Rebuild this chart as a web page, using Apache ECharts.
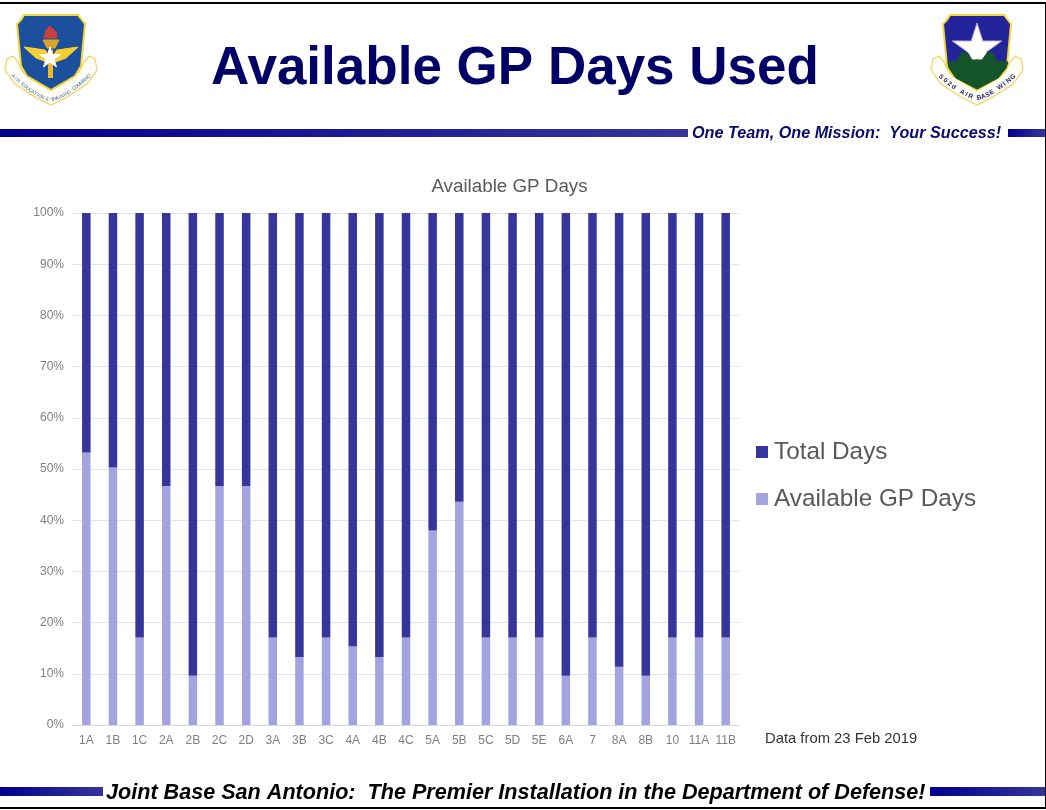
<!DOCTYPE html>
<html><head><meta charset="utf-8">
<style>html,body{margin:0;padding:0;background:#fff}#c{width:1046px;height:810px}</style>
<script src="https://cdn.jsdelivr.net/npm/echarts@6/dist/echarts.min.js"></script>
</head><body><div id="c"></div>
<script>
const categories = ['1A','1B','1C','2A','2B','2C','2D','3A','3B','3C','4A','4B','4C','5A','5B','5C','5D','5E','6A','7','8A','8B','10','11A','11B'];
const availableShare = [53.2,50.3,17.1,46.7,9.6,46.7,46.7,17.1,13.3,17.1,15.4,13.3,17.1,38,43.6,17.1,17.1,17.1,9.6,17.1,11.4,9.6,17.1,17.1,17.1];
const totalShare = [46.8,49.7,82.9,53.3,90.4,53.3,53.3,82.9,86.7,82.9,84.6,86.7,82.9,62,56.4,82.9,82.9,82.9,90.4,82.9,88.6,90.4,82.9,82.9,82.9];
const seriesNames = ['Total Days','Available GP Days'];
const pageTitle = 'Available GP Days Used';
const chartTitle = 'Available GP Days';
const motto = 'One Team, One Mission:  Your Success!';
const footer = 'Joint Base San Antonio:  The Premier Installation in the Department of Defense!';
const dataNote = 'Data from 23 Feb 2019';
const crestLeftText = 'AIR EDUCATION & TRAINING COMMAND';
const crestRightText = '502d AIR BASE WING';
const NAVY = '#000066', DARK = '#35359b', LIGHT = '#a3a3e0', SANS = '"Liberation Sans", Arial, sans-serif';

const bandFill = () => new echarts.graphic.LinearGradient(0,0,1,0,[{offset:0,color:'#00008f'},{offset:1,color:'#35359b'}]);
const rect = (x,y,w,h,fill) => ({type:'rect',silent:true,shape:{x,y,width:w,height:h},style:{fill}});
const txt = (x,y,text,font,fill,align='left') => ({type:'text',silent:true,x,y,style:{text,font,fill,align,verticalAlign:'middle'}});
const poly = (points,fill,stroke,lw=1.5) => ({type:'polygon',silent:true,shape:{points},style:{fill,stroke,lineWidth:lw}});
const shield = (cx,fill,edge) => poly([[cx-30,20],[cx-27,15],[cx+27,15],[cx+34,24],[cx+30,66],[cx+24,76],[cx,90],[cx-24,76],[cx-30,66],[cx-34,24]],fill,edge,2);
const scroll = (cx,stroke) => poly([[cx-46,70],[cx-44,59],[cx-38,56],[cx-33,62],[cx-28,72],[cx,90],[cx+28,72],[cx+33,62],[cx+38,56],[cx+44,59],[cx+46,70],[cx+36,84],[cx+16,97],[cx,105],[cx-16,97],[cx-36,84]],'#fffef6',stroke,1.2);
const star = (cx,cy,r,fill,stroke) => {const p=[];for(let i=0;i<10;i++){const a=-Math.PI/2+i*Math.PI/5,q=i%2?r*0.38:r;p.push([cx+q*Math.cos(a),cy+q*Math.sin(a)]);}return poly(p,fill,stroke,1);};
// letters set one by one along the two straight sides of a crest's ribbon
const ribbonText = (text,cx,spreadX,topY,lowY,font,fill) => {
  const n = text.length, out = [];
  for (let i=0;i<n;i++){
    const t = (i+0.5)/n*2-1, x = cx+t*spreadX, y = lowY-(lowY-topY)*Math.pow(Math.abs(t),1.5);
    const slope = -Math.sign(t)*1.5*Math.pow(Math.abs(t),0.5)*(lowY-topY)/spreadX;
    out.push({type:'text',silent:true,x,y,rotation:-Math.atan(slope),style:{text:text[i],font,fill,align:'center',verticalAlign:'middle'}});
  }
  return out;
};

const graphics = [
  rect(0,2,1046,2,'#000'), rect(0,807,1046,2,'#000'), rect(1045,2,1,807,'#000'),
  rect(0,129,688,8,bandFill()), rect(1008,129,37,8,bandFill()),
  rect(0,787,103,9,bandFill()), rect(930,787,115,9,bandFill()),
  txt(515,69,pageTitle,'bold 53px '+SANS,NAVY,'center'),
  txt(692,134,motto,'italic bold 16.2px '+SANS,'#0a0a6e'),
  txt(106,793,footer,'italic bold 21.6px '+SANS,'#000'),
  txt(765,739,dataNote,'14.8px '+SANS,'#333'),
  // AETC crest
  scroll(51,'#f2d25a'),
  shield(51,'#1c4f9c','#f7d438'),
  poly([[44,38],[46,30],[50,26],[56,32],[57,38]],'#c8413f','#c8413f',1),
  poly([[43,40],[59,40],[55,48],[47,48]],'#d9a52e','#d9a52e',1),
  poly([[24,47],[45,50],[51,58],[57,50],[78,47],[66,58],[55,62],[47,62],[36,58]],'#f5cf30','#f5cf30',1),
  rect(48,50,5,28,'#f0b92c'),
  star(50,58,11,'#ffffff','#ffffff'),
  ...ribbonText(crestLeftText,51,39,75,100,'5px '+SANS,'#4a6aa8'),
  // 502 ABW crest
  scroll(977,'#f2d25a'),
  shield(977,'#24249a','#f7d438'),
  star(977,49,26,'#ffffff','#b8a8d8'),
  poly([[948,62],[958,61],[960,53],[968,53],[972,60],[982,60],[987,53],[993,53],[996,61],[1008,62],[1006,68],[998,78],[977,89],[956,78],[949,68]],'#15532a','#15532a',1),
  ...ribbonText(crestRightText,977,38,75,98,'bold 6.5px '+SANS,'#1a1a6e')
];

const chart = echarts.init(document.getElementById('c'),null,{renderer:'canvas'});
chart.setOption({
  animation:false,
  backgroundColor:'#fff',
  title:{text:chartTitle,left:504.5,top:172,textAlign:'center',textStyle:{fontFamily:SANS,fontSize:18.8,fontWeight:'normal',color:'#595959'}},
  legend:{orient:'vertical',left:751,top:435,itemWidth:12,itemHeight:12,itemGap:23,icon:'rect',data:seriesNames,
    textStyle:{fontFamily:SANS,fontSize:24.3,color:'#595959',padding:[0,0,0,1]}},
  grid:{left:73,top:213,width:666,height:512},
  xAxis:{type:'category',data:categories,axisTick:{show:false},axisLine:{lineStyle:{color:'#d9d9d9'}},
    axisLabel:{interval:0,fontFamily:SANS,fontSize:12,color:'#7f7f7f',margin:10}},
  yAxis:{type:'value',min:0,max:100,interval:10,axisLine:{show:false},axisTick:{show:false},
    axisLabel:{formatter:'{value}%',fontFamily:SANS,fontSize:12,color:'#7f7f7f',margin:9,padding:[4,0,0,0]},
    splitLine:{lineStyle:{color:'#e4e4e4'}}},
  series:[
    {name:seriesNames[1],type:'bar',stack:'s',barWidth:8.5,data:availableShare,itemStyle:{color:LIGHT}},
    {name:seriesNames[0],type:'bar',stack:'s',barWidth:8.5,data:totalShare,itemStyle:{color:DARK}}
  ],
  graphic:{elements:graphics}
});
</script></body></html>
